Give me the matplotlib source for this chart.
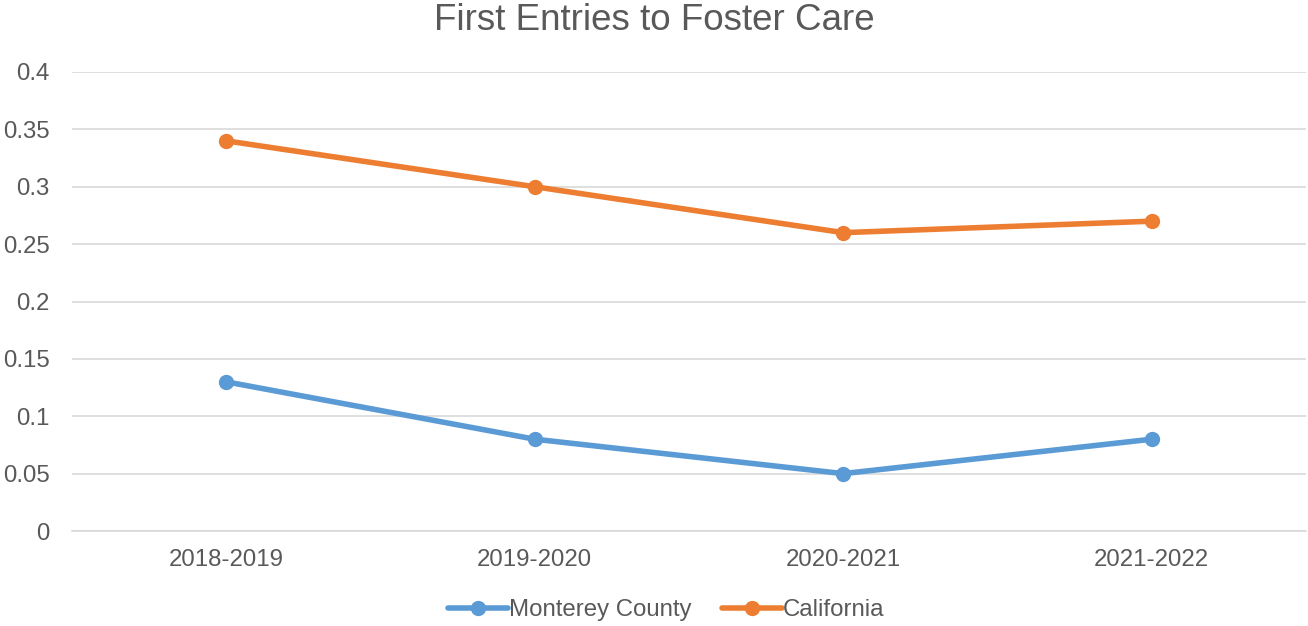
import matplotlib.pyplot as plt
import numpy as np

plt.rcParams['font.family'] = ['Liberation Sans', 'DejaVu Sans']

years = ["2018-2019", "2019-2020", "2020-2021", "2021-2022"]
monterey = [0.13, 0.08, 0.05, 0.08]
california = [0.34, 0.30, 0.26, 0.27]

text_col = "#595959"
x = np.arange(len(years)) + 0.5

fig = plt.figure(figsize=(13.08, 6.26), dpi=100)
ax = fig.add_axes([72 / 1308, 1 - 531 / 626, (1306 - 72) / 1308, (531 - 72) / 626])

ax.plot(x, monterey, color="#5B9BD5", lw=4, marker="o", ms=10, label="Monterey County",
        solid_capstyle="round")
ax.plot(x, california, color="#ED7D31", lw=4, marker="o", ms=10, label="California",
        solid_capstyle="round")

ax.set_xlim(0, 4)
ax.set_ylim(0, 0.4)
ax.set_yticks(np.arange(0, 0.41, 0.05))
ax.set_yticklabels(["0", "0.05", "0.1", "0.15", "0.2", "0.25", "0.3", "0.35", "0.4"])
ax.set_xticks(x)
ax.set_xticklabels(years)
ax.grid(axis="y", color="#D9D9D9", lw=1.2)
ax.set_axisbelow(True)
for s in ["top", "right", "left"]:
    ax.spines[s].set_visible(False)
ax.spines["bottom"].set_color("#D9D9D9")
ax.spines["bottom"].set_linewidth(1.2)
ax.tick_params(length=0, labelsize=17.3, colors=text_col)
ax.tick_params(axis="y", pad=16)
ax.tick_params(axis="x", pad=13)

fig.text(0.5, 1 - 20 / 626, "First Entries to Foster Care", ha="center", va="center",
         fontsize=26.5, color=text_col)

fig.legend(loc="center", bbox_to_anchor=(0.5 + 12 / 1308, 1 - 610 / 626), ncol=2,
           frameon=False, fontsize=17.3, labelcolor=text_col, handlelength=2.5,
           handletextpad=0.05, columnspacing=1.25, borderpad=0)

fig.savefig("out.png", dpi=100)
